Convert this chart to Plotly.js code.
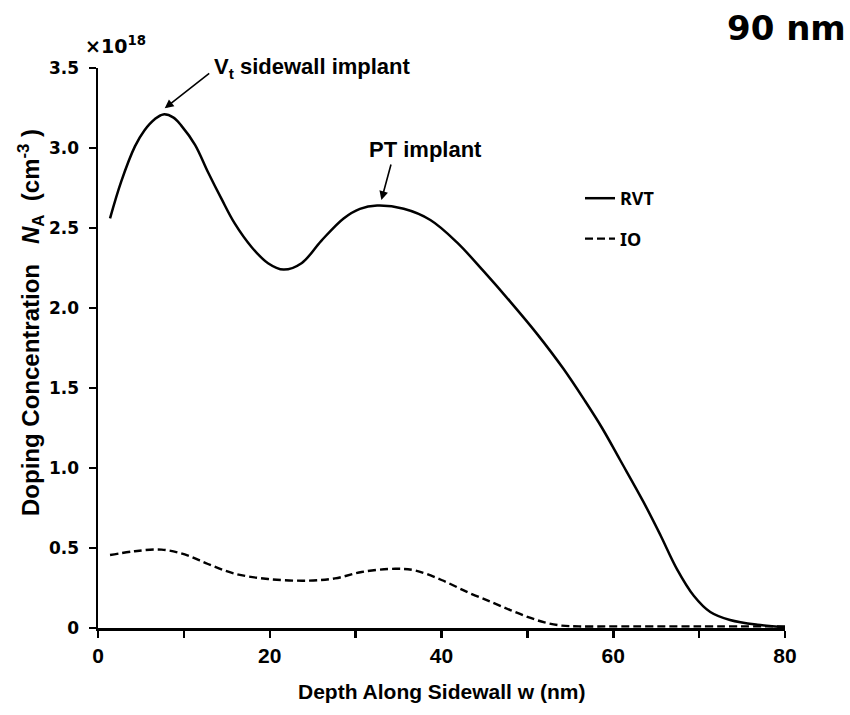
<!DOCTYPE html>
<html>
<head>
<meta charset="utf-8">
<script src="https://cdn.plot.ly/plotly-3.0.1.min.js"></script>
<style>html,body{margin:0;padding:0;background:#fff;}#chart{width:850px;height:715px;}</style>
</head>
<body>
<div id="chart"></div>
<script>
// Data (units of 1e18 cm^-3 vs depth in nm)
const depthRVT = [1.4, 2.7, 4.3, 5.4, 6.6, 7.6, 8.8, 9.7, 11.3, 12.8, 14.4, 15.9, 17.9, 19.8, 21.6, 23.7, 26.0, 28.6, 30.5, 32.5, 35.6, 38.7, 41.8, 44.9, 48.0, 51.1, 54.2, 56.7, 58.7, 60.8, 63.5, 65.5, 67.4, 69.4, 71.3, 73.6, 76.8, 80.0];
const concRVT  = [2.56, 2.79, 3.01, 3.11, 3.18, 3.21, 3.19, 3.14, 3.02, 2.85, 2.68, 2.53, 2.38, 2.28, 2.24, 2.28, 2.42, 2.56, 2.62, 2.64, 2.62, 2.55, 2.41, 2.23, 2.04, 1.84, 1.62, 1.42, 1.25, 1.05, 0.79, 0.58, 0.37, 0.20, 0.10, 0.05, 0.02, 0.005];
const depthIO  = [1.4, 4.3, 7.4, 10.1, 12.8, 15.9, 19.8, 24.5, 27.6, 30.7, 34.6, 36.9, 40.0, 43.2, 45.9, 48.0, 50.0, 52.0, 54.0, 56.0, 60.0, 70.0, 80.0];
const concIO   = [0.456, 0.48, 0.49, 0.46, 0.40, 0.34, 0.306, 0.296, 0.31, 0.35, 0.37, 0.36, 0.30, 0.22, 0.16, 0.112, 0.07, 0.035, 0.015, 0.01, 0.01, 0.01, 0.01];
const seriesNames = ['RVT', 'IO'];
const xTickVals = [0, 20, 40, 60, 80];
const xTickText = ['0', '20', '40', '60', '80'];
const yTickVals = [0, 0.5, 1.0, 1.5, 2.0, 2.5, 3.0, 3.5];
const yTickText = ['0', '0.5', '1.0', '1.5', '2.0', '2.5', '3.0', '3.5'];

// layout geometry helpers (pixel -> paper)
const W = 850, H = 715, L = 98, R = 65, T = 68, B = 87;
const pw = W - L - R, ph = H - T - B;
const px = v => (v - L) / pw;
const py = v => (H - B - v) / ph;

const ARIAL = 'Liberation Sans, Arial, sans-serif';
const DEJAVU = 'DejaVu Sans, sans-serif';

const traces = [
  {x: depthRVT, y: concRVT, name: seriesNames[0], type: 'scatter', mode: 'lines',
   line: {color: '#000', width: 2.5, shape: 'spline', smoothing: 1}, legendgroup: 'a'},
  {x: depthIO, y: concIO, name: seriesNames[1], type: 'scatter', mode: 'lines',
   line: {color: '#000', width: 2.4, dash: '8px,4px', shape: 'spline', smoothing: 1}, legendgroup: 'b'}
];

const axisCommon = {
  showline: true, linecolor: '#000', linewidth: 2.5, mirror: false,
  ticks: 'outside', ticklen: 7, tickwidth: 2.5, tickcolor: '#000',
  showgrid: false, zeroline: false, tickmode: 'array', fixedrange: true
};

const layout = {
  width: W, height: H,
  margin: {l: L, r: R, t: T, b: B, pad: 0},
  paper_bgcolor: '#fff', plot_bgcolor: '#fff',
  showlegend: true,
  legend: {x: px(580), y: py(180), xanchor: 'left', yanchor: 'top', bgcolor: 'rgba(0,0,0,0)',
           font: {family: 'Noto Sans, sans-serif', size: 18, weight: 'bold', color: '#000'}, tracegroupgap: 14},
  xaxis: Object.assign({}, axisCommon, {
    range: [0, 80], tickvals: xTickVals, ticktext: xTickText,
    minor: {tickmode: 'linear', tick0: 0, dtick: 10, ticks: 'outside', ticklen: 7, tickwidth: 2.5, tickcolor: '#000', showgrid: false},
    tickfont: {family: ARIAL, size: 21, weight: 'bold', color: '#000'}, ticklabelstandoff: 0
  }),
  yaxis: Object.assign({}, axisCommon, {
    range: [0, 3.5], tickvals: yTickVals, ticktext: yTickText,
    tickfont: {family: DEJAVU, size: 17, weight: 'bold', color: '#000'}, ticklabelstandoff: 6
  }),
  annotations: [
    // x axis title
    {xref: 'paper', yref: 'paper', x: px(441.5), y: py(691), xanchor: 'center', yanchor: 'middle',
     text: 'Depth Along Sidewall w (nm)', showarrow: false,
     font: {family: ARIAL, size: 21, weight: 'bold', color: '#000'}},
    // y axis title
    {xref: 'paper', yref: 'paper', x: px(31), y: py(323), xanchor: 'center', yanchor: 'middle', textangle: -90,
     text: 'Doping Concentration\u00A0\u00A0\u00A0<i>N</i><sub>A</sub>\u00A0\u00A0(cm<sup>-3</sup>\u00A0)', showarrow: false,
     font: {family: ARIAL, size: 24, weight: 'bold', color: '#000'}},
    // exponent label
    {xref: 'paper', yref: 'paper', x: px(83), y: py(45), xanchor: 'left', yanchor: 'middle',
     text: '×10<sup>18</sup>', showarrow: false,
     font: {family: DEJAVU, size: 19, weight: 'bold', color: '#000'}},
    // 90 nm
    {xref: 'paper', yref: 'paper', x: px(848), y: py(28), xanchor: 'right', yanchor: 'middle',
     text: '90 nm', showarrow: false,
     font: {family: DEJAVU, size: 34, weight: 'bold', color: '#000'}},
    // Vt label
    {xref: 'paper', yref: 'paper', x: px(212), y: py(68), xanchor: 'left', yanchor: 'middle',
     text: 'V<sub>t</sub> sidewall implant', showarrow: false,
     font: {family: ARIAL, size: 22, weight: 'bold', color: '#000'}},
    // PT label
    {xref: 'paper', yref: 'paper', x: px(425), y: py(149), xanchor: 'center', yanchor: 'middle',
     text: 'PT implant', showarrow: false,
     font: {family: ARIAL, size: 22, weight: 'bold', color: '#000'}},
    // arrows
    {x: 7.77, y: 3.248, xref: 'x', yref: 'y', text: '', showarrow: true, ax: 46, ay: -36,
     arrowhead: 2, arrowsize: 1.1, arrowwidth: 1.6, arrowcolor: '#000', standoff: 0, startstandoff: 0},
    {x: 33.0, y: 2.675, xref: 'x', yref: 'y', text: '', showarrow: true, ax: 10, ay: -37,
     arrowhead: 2, arrowsize: 1.1, arrowwidth: 1.6, arrowcolor: '#000', standoff: 0, startstandoff: 0}
  ]
};

Plotly.newPlot('chart', traces, layout, {displayModeBar: false, staticPlot: true});
</script>
</body>
</html>
